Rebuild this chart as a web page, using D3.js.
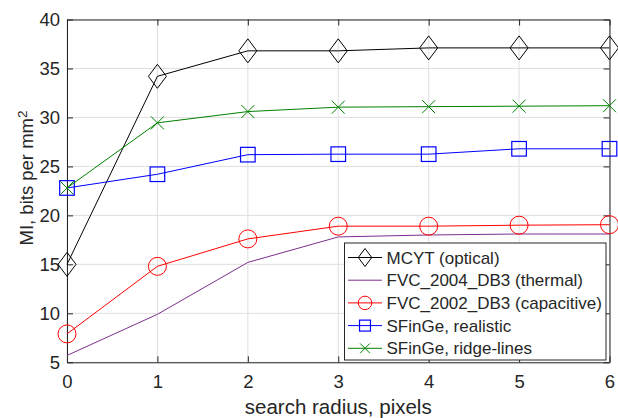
<!DOCTYPE html>
<html lang="en">
<head>
<meta charset="UTF-8">
<title>MI vs search radius</title>
<style>
  body { margin: 0; background: #fff; }
  text { font-family: "Liberation Sans", Arial, Helvetica, sans-serif; fill: #262626; }
</style>
</head>
<body>
<script src="https://d3js.org/d3.v7.min.js"></script>
<div id="chart"></div>
<script>
// data
const radius = [0, 1, 2, 3, 4, 5, 6];
const mcyt = [15.0, 34.2, 36.8, 36.8, 37.1, 37.1, 37.1];
const fvc2004 = [5.7, 9.9, 15.2, 17.8, 18.0, 18.1, 18.1];
const fvc2002 = [7.9, 14.8, 17.6, 18.9, 18.9, 19.0, 19.05];
const sfingeRealistic = [22.8, 24.2, 26.2, 26.25, 26.25, 26.8, 26.8];
const sfingeRidge = [22.8, 29.45, 30.6, 31.05, 31.1, 31.15, 31.2];
const seriesNames = ["MCYT (optical)", "FVC_2004_DB3 (thermal)", "FVC_2002_DB3 (capacitive)", "SFinGe, realistic", "SFinGe, ridge-lines"];
const xTicks = [0, 1, 2, 3, 4, 5, 6];
const yTicks = [5, 10, 15, 20, 25, 30, 35, 40];

const series = [
  { name: seriesNames[0], values: mcyt, color: "#000000", marker: "diamond" },
  { name: seriesNames[1], values: fvc2004, color: "#7E2F8E", marker: "none" },
  { name: seriesNames[2], values: fvc2002, color: "#FF0000", marker: "circle" },
  { name: seriesNames[3], values: sfingeRealistic, color: "#0000FF", marker: "square" },
  { name: seriesNames[4], values: sfingeRidge, color: "#008000", marker: "cross" }
];

const width = 618, height = 418;
const margin = { top: 19.5, right: 8.5, bottom: 55.7, left: 67 };
const iw = width - margin.left - margin.right;
const ih = height - margin.top - margin.bottom;

const svg = d3.select("#chart").append("svg").attr("width", width).attr("height", height);
const g = svg.append("g").attr("transform", `translate(${margin.left},${margin.top})`);

const x = d3.scaleLinear().domain([0, 6]).range([0, iw]);
const y = d3.scaleLinear().domain([5, 40]).range([ih, 0]);

// grid
g.append("g").selectAll("line").data(xTicks).enter().append("line")
  .attr("x1", d => x(d)).attr("x2", d => x(d)).attr("y1", 0).attr("y2", ih)
  .attr("stroke", "#dfdfdf").attr("stroke-width", 1);
g.append("g").selectAll("line").data(yTicks).enter().append("line")
  .attr("x1", 0).attr("x2", iw).attr("y1", d => y(d)).attr("y2", d => y(d))
  .attr("stroke", "#dfdfdf").attr("stroke-width", 1);

// axes, ticks inward like matlab
const axisStyle = sel => {
  sel.select(".domain").attr("stroke", "#262626");
  sel.selectAll(".tick line").attr("stroke", "#262626");
  sel.selectAll("text").style("font-size", "18.5px").attr("fill", "#262626");
};
g.append("g").attr("transform", `translate(0,${ih})`)
  .call(d3.axisBottom(x).tickValues(xTicks).tickFormat(d3.format("d")).tickSizeInner(-6).tickSizeOuter(0).tickPadding(13))
  .call(axisStyle);
g.append("g")
  .call(d3.axisLeft(y).tickValues(yTicks).tickFormat(d3.format("d")).tickSizeInner(-6).tickSizeOuter(0).tickPadding(7))
  .call(axisStyle);
g.append("g")
  .call(d3.axisTop(x).tickValues(xTicks).tickSizeInner(-6).tickSizeOuter(0).tickFormat(""))
  .call(axisStyle);
g.append("g").attr("transform", `translate(${iw},0)`)
  .call(d3.axisRight(y).tickValues(yTicks).tickSizeInner(-6).tickSizeOuter(0).tickFormat(""))
  .call(axisStyle);

// markers
function drawMarker(sel, type, color, s) {
  if (type === "diamond") {
    sel.append("path").attr("d", `M0,${-12 * s}L${9 * s},0L0,${12 * s}L${-9 * s},0Z`)
      .attr("fill", "none").attr("stroke", color).attr("stroke-width", 1);
  } else if (type === "circle") {
    sel.append("circle").attr("r", 9 * s).attr("fill", "none").attr("stroke", color).attr("stroke-width", 1);
  } else if (type === "square") {
    sel.append("rect").attr("x", -7.3 * s).attr("y", -7.3 * s).attr("width", 14.6 * s).attr("height", 14.6 * s)
      .attr("fill", "none").attr("stroke", color).attr("stroke-width", 1.2);
  } else if (type === "cross") {
    const r = 6.5 * s;
    sel.append("path").attr("d", `M${-r},${-r}L${r},${r}M${-r},${r}L${r},${-r}`)
      .attr("fill", "none").attr("stroke", color).attr("stroke-width", 1);
  }
}

const line = d3.line().x((d, i) => x(radius[i])).y(d => y(d));

series.forEach(s => {
  g.append("path").attr("d", line(s.values)).attr("fill", "none")
    .attr("stroke", s.color).attr("stroke-width", 1);
  if (s.marker !== "none") {
    g.append("g").selectAll("g").data(s.values).enter().append("g")
      .attr("transform", (d, i) => `translate(${x(radius[i])},${y(d)})`)
      .each(function () { drawMarker(d3.select(this), s.marker, s.color, 1); });
  }
});

// axis labels
svg.append("text").attr("x", margin.left + iw / 2).attr("y", 414)
  .attr("text-anchor", "middle").style("font-size", "20.5px").text("search radius, pixels");
const yl = svg.append("text").attr("transform", "translate(33,178) rotate(-90)")
  .attr("text-anchor", "middle").style("font-size", "18.5px");
yl.append("tspan").text("MI, bits per mm");
yl.append("tspan").attr("dy", "-0.45em").style("font-size", "13.5px").text("2");

// legend
const legend = svg.append("g").attr("transform", "translate(344.5,243)");
legend.append("rect").attr("width", 261.5).attr("height", 117)
  .attr("fill", "#fff").attr("stroke", "#262626").attr("stroke-width", 1);
const rows = legend.selectAll("g.row").data(series).enter().append("g").attr("class", "row")
  .attr("transform", (d, i) => `translate(0,${14.5 + i * 22.7})`);
rows.append("line").attr("x1", 3.5).attr("x2", 37.5).attr("y1", 0).attr("y2", 0)
  .attr("stroke", d => d.color).attr("stroke-width", 1);
rows.each(function (d) {
  const m = d3.select(this).append("g").attr("transform", "translate(20.5,0)");
  drawMarker(m, d.marker, d.color, 0.75);
});
rows.append("text").attr("x", 42).attr("dy", "0.36em").style("font-size", "17px").text(d => d.name);
</script>
</body>
</html>
